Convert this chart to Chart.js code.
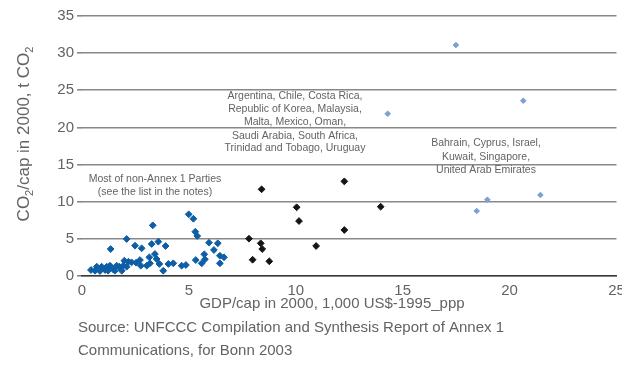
<!DOCTYPE html>
<html><head><meta charset="utf-8">
<script src="https://cdn.jsdelivr.net/npm/chart.js@4/dist/chart.umd.min.js"></script>
<style>
html,body{margin:0;padding:0;background:#fff;overflow:hidden;width:622px;height:365px}
#wrap{position:absolute;left:0;top:0;width:640px;height:365px}
</style>
</head><body>
<div id="wrap"><canvas id="c" width="640" height="365"></canvas></div>
<script>
// Most of non-Annex 1 Parties (dark blue)
const nonAnnexGdp = [0.42,0.61,0.69,0.84,0.92,1.08,1.16,1.22,1.31,1.34,1.45,1.54,1.62,1.74,1.86,1.93,1.98,2.09,2.09,2.17,2.32,2.48,2.53,2.71,2.75,2.79,3.03,3.15,3.18,3.26,3.31,3.41,3.49,3.57,3.62,3.80,3.91,4.04,4.27,4.66,4.86,4.99,5.21,5.30,5.39,5.32,5.60,5.72,5.75,5.94,6.17,6.35,6.45,6.45,6.64];
const nonAnnexCo2 = [0.81,0.71,1.25,0.67,1.25,0.81,1.25,0.71,1.39,3.63,0.94,0.71,1.39,1.25,0.71,1.39,2.06,4.98,1.25,1.92,1.84,4.08,1.79,2.15,1.39,3.73,1.39,2.52,1.71,4.31,6.82,2.96,2.29,4.62,1.62,0.71,4.04,1.62,1.71,1.39,1.48,8.30,7.71,5.96,5.38,2.15,1.71,2.92,2.25,4.48,3.50,4.40,1.71,2.73,2.52];
// Argentina, Chile, ... Uruguay (black)
const midGdp = [8.40,12.27,10.04,13.97,10.15,12.27,7.81,8.36,8.43,10.95,7.98,8.76];
const midCo2 = [11.67,12.74,9.25,9.33,7.40,6.19,5.02,4.40,3.63,4.04,2.19,1.98];
// Bahrain, Cyprus, Israel, Kuwait, Singapore, UAE (light blue)
const richGdp = [17.49,20.64,14.30,21.44,18.96,18.46];
const richCo2 = [31.09,23.59,21.84,10.90,10.27,8.75];

const xTicks = [0,5,10,15,20,25];
const yTicks = [0,5,10,15,20,25,30,35];

const noteMid = ["Argentina, Chile, Costa Rica,","Republic of Korea, Malaysia,","Malta, Mexico, Oman,","Saudi Arabia, South Africa,","Trinidad and Tobago, Uruguay"];
const noteLow = ["Most of non-Annex 1 Parties","(see the list in the notes)"];
const noteRich = ["Bahrain, Cyprus, Israel,","Kuwait, Singapore,","United Arab Emirates"];
const xTitle = "GDP/cap in 2000, 1,000 US$-1995_ppp";
const sourceLines = ["Source: UNFCCC Compilation and Synthesis Report of Annex 1","Communications, for Bonn 2003"];

const pts = (xs, ys) => xs.map((x, i) => ({x: x, y: ys[i]}));
const FONT = "'Liberation Sans', Arial, Helvetica, sans-serif";
const TXT = '#636363';

const textPlugin = {
  id: 'texts',
  afterDraw(chart) {
    const ctx = chart.ctx;
    ctx.save();
    ctx.fillStyle = TXT;
    ctx.textBaseline = 'middle';
    // annotations
    ctx.font = '10.5px ' + FONT;
    ctx.textAlign = 'center';
    const midY = [95.7, 109, 121.7, 135.7, 148.3];
    noteMid.forEach((t, i) => ctx.fillText(t, 295, midY[i]));
    const lowY = [179, 192];
    noteLow.forEach((t, i) => ctx.fillText(t, 155, lowY[i]));
    const richY = [143.5, 157, 170];
    noteRich.forEach((t, i) => ctx.fillText(t, 486, richY[i]));
    // x title
    ctx.font = '15px ' + FONT;
    ctx.fillText(xTitle, 332, 304);
    // source
    ctx.textAlign = 'left';
    ctx.fillText(sourceLines[0], 78, 328);
    ctx.fillText(sourceLines[1], 78, 351);
    // y title with subscripts
    ctx.translate(23, 134);
    ctx.rotate(-Math.PI / 2);
    const parts = [["CO", false], ["2", true], ["/cap in 2000, t CO", false], ["2", true]];
    const fN = '17px ' + FONT, fS = '11px ' + FONT;
    let total = 0;
    parts.forEach(p => { ctx.font = p[1] ? fS : fN; total += ctx.measureText(p[0]).width; });
    let x = -total / 2;
    ctx.textBaseline = 'alphabetic';
    parts.forEach(p => {
      ctx.font = p[1] ? fS : fN;
      ctx.fillText(p[0], x, p[1] ? 10 : 6);
      x += ctx.measureText(p[0]).width;
    });
    ctx.restore();
  }
};

new Chart(document.getElementById('c'), {
  type: 'scatter',
  data: {
    datasets: [
      {data: pts(nonAnnexGdp, nonAnnexCo2), pointStyle: 'rectRot', pointRadius: 3.4, backgroundColor: '#0d5ea6', borderColor: '#0d5ea6', borderWidth: 1},
      {data: pts(midGdp, midCo2), pointStyle: 'rectRot', pointRadius: 3.4, backgroundColor: '#141414', borderColor: '#141414', borderWidth: 1},
      {data: pts(richGdp, richCo2), pointStyle: 'rectRot', pointRadius: 2.8, backgroundColor: '#7d9fd3', borderColor: '#7d9fd3', borderWidth: 1}
    ]
  },
  options: {
    responsive: false,
    devicePixelRatio: 1,
    animation: false,
    layout: {padding: {top: 16, right: 23.5, left: 0, bottom: 0}},
    plugins: {legend: {display: false}, tooltip: {enabled: false}},
    scales: {
      x: {
        type: 'linear', min: 0, max: 25,
        afterBuildTicks: s => { s.ticks = xTicks.map(v => ({value: v})); },
        afterFit: s => { s.height = 89; },
        ticks: {font: {size: 15, family: FONT}, color: TXT, padding: 6},
        grid: {display: false, drawTicks: false},
        border: {display: true, color: '#3a3a3a', width: 1.5}
      },
      y: {
        min: 0, max: 35,
        afterBuildTicks: s => { s.ticks = yTicks.map(v => ({value: v})); },
        afterFit: s => { s.width = 82; },
        ticks: {font: {size: 15, family: FONT}, color: TXT, padding: 3},
        grid: {color: '#888888', lineWidth: 1.6, tickLength: 5, drawTicks: true},
        border: {display: false}
      }
    }
  },
  plugins: [textPlugin]
});
</script>
</body></html>
